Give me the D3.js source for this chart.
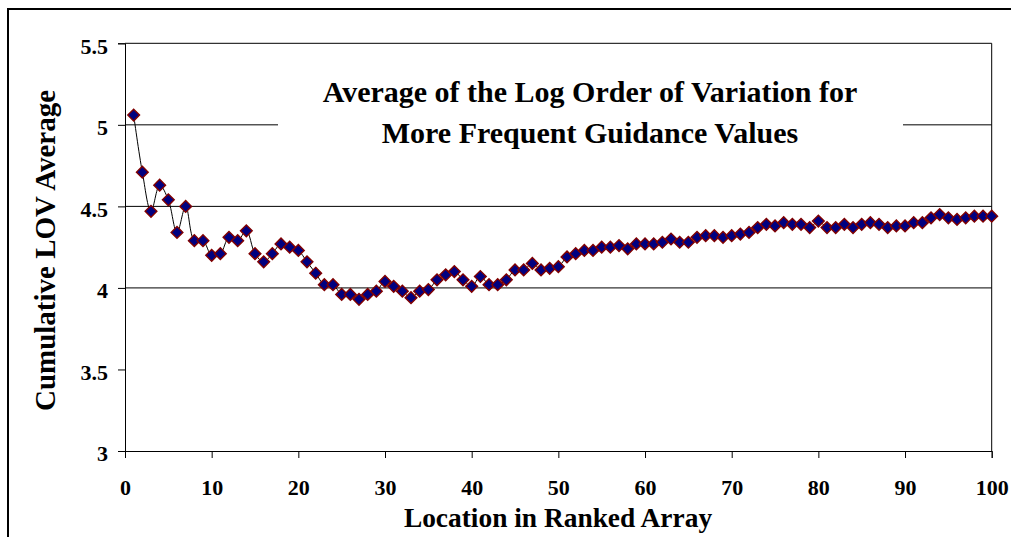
<!DOCTYPE html>
<html>
<head>
<meta charset="utf-8">
<script src="https://cdn.jsdelivr.net/npm/d3@7"></script>
<style>
  html, body { margin: 0; padding: 0; background: #fff; }
  svg { display: block; }
  text { font-family: "Liberation Serif", "Times New Roman", serif; font-weight: bold; fill: #000; }
</style>
</head>
<body>
<svg id="chart" width="1011" height="537"></svg>
<script>
// ---- data ----
const titleLines = ["Average of the Log Order of Variation for", "More Frequent Guidance Values"];
const xTitle = "Location in Ranked Array";
const yTitle = "Cumulative LOV Average";
const xTicks = [0, 10, 20, 30, 40, 50, 60, 70, 80, 90, 100];
const yTicks = [3, 3.5, 4, 4.5, 5, 5.5];
const gridValues = [4, 4.5, 5];
const lovAverage = [
  5.06, 4.71, 4.47, 4.63, 4.54, 4.34, 4.50, 4.29, 4.29, 4.20,
  4.21, 4.31, 4.29, 4.35, 4.21, 4.16, 4.21, 4.27, 4.25, 4.23,
  4.16, 4.09, 4.02, 4.02, 3.96, 3.96, 3.93, 3.96, 3.98, 4.04,
  4.01, 3.98, 3.94, 3.98, 3.99, 4.05, 4.08, 4.10, 4.05, 4.01,
  4.07, 4.02, 4.02, 4.05, 4.11, 4.11, 4.15, 4.11, 4.12, 4.13,
  4.19, 4.21, 4.23, 4.23, 4.25, 4.25, 4.26, 4.24, 4.27, 4.27,
  4.27, 4.28, 4.30, 4.28, 4.28, 4.31, 4.32, 4.32, 4.31, 4.32,
  4.33, 4.34, 4.37, 4.39, 4.38, 4.40, 4.39, 4.39, 4.37, 4.41,
  4.37, 4.37, 4.39, 4.37, 4.39, 4.40, 4.39, 4.37, 4.38, 4.38,
  4.40, 4.40, 4.43, 4.45, 4.43, 4.42, 4.43, 4.44, 4.44, 4.44
];
const points = lovAverage.map((v, i) => ({ loc: i + 1, v }));

// ---- layout ----
const svg = d3.select("#chart");
const W = 1011, H = 537;
const plot = { left: 125, right: 991.7, top: 43.3, bottom: 451 };

svg.append("rect").attr("x", 0).attr("y", 0).attr("width", W).attr("height", H).attr("fill", "#fff");

// outer chart border (cut off on right/bottom)
svg.append("path")
  .attr("d", `M8,${H + 2} L8,9 L${W + 2},9`)
  .attr("fill", "none").attr("stroke", "#000").attr("stroke-width", 2);

const x = d3.scaleLinear().domain([0, 100]).range([plot.left, plot.right]);
const y = d3.scaleLinear().domain([3, 5.5]).range([plot.bottom, plot.top]);

// gridlines
svg.append("g").selectAll("line").data(gridValues).join("line")
  .attr("x1", plot.left).attr("x2", plot.right)
  .attr("y1", d => y(d)).attr("y2", d => y(d))
  .attr("stroke", "#000").attr("stroke-width", 1);

// plot area top/right border
svg.append("path")
  .attr("d", `M${plot.left},${y(5.5)} L${plot.right},${y(5.5)} L${plot.right},${plot.bottom}`)
  .attr("fill", "none").attr("stroke", "#000").attr("stroke-width", 1);

// title with white background
const titleG = svg.append("g");
titleG.append("rect").attr("x", 278).attr("y", 68).attr("width", 625).attr("height", 88).attr("fill", "#fff");
titleG.selectAll("text").data(titleLines).join("text")
  .attr("x", 590).attr("y", (d, i) => 101.7 + i * 41.6)
  .attr("text-anchor", "middle").style("font-size", "30px")
  .text(d => d);

// axes
const yAxis = d3.axisLeft(y).tickValues(yTicks).tickSize(7).tickPadding(10)
  .tickFormat(d => String(d));
const gy = svg.append("g").attr("transform", `translate(${plot.left},0)`).call(yAxis);
gy.select(".domain").attr("stroke", "#000");
gy.selectAll(".tick line").attr("stroke", "#000");
gy.selectAll(".tick text").attr("dy", "0.45em")
  .style("font-size", "22px").style("font-family", "'Liberation Serif', serif").style("font-weight", "bold");

const xAxis = d3.axisBottom(x).tickValues(xTicks).tickSize(7).tickFormat(d => String(d));
const gx = svg.append("g").attr("transform", `translate(0,${plot.bottom})`).call(xAxis);
gx.select(".domain").attr("stroke", "#000");
gx.selectAll(".tick line").attr("stroke", "#000");
gx.selectAll(".tick text").attr("y", 44).attr("dy", 0)
  .style("font-size", "22px").style("font-family", "'Liberation Serif', serif").style("font-weight", "bold");
svg.selectAll(".domain").attr("stroke-width", 1);

// axis titles
svg.append("text").attr("x", 558).attr("y", 527)
  .attr("text-anchor", "middle").style("font-size", "27.4px").text(xTitle);
svg.append("text")
  .attr("transform", "translate(55,250.5) rotate(-90)")
  .attr("text-anchor", "middle").style("font-size", "29px").text(yTitle);

// series line
const line = d3.line().x(d => x(d.loc)).y(d => y(d.v)).curve(d3.curveCatmullRom.alpha(0.5));
svg.append("path").datum(points)
  .attr("d", line).attr("fill", "none").attr("stroke", "#000").attr("stroke-width", 1);

// diamond markers
const diamond = d3.symbol().type(d3.symbolDiamond2).size(88);
svg.append("g").selectAll("path").data(points).join("path")
  .attr("transform", d => `translate(${x(d.loc)},${y(d.v)})`)
  .attr("d", diamond)
  .attr("fill", "#000080").attr("stroke", "#800000").attr("stroke-width", 1.4);
</script>
</body>
</html>
